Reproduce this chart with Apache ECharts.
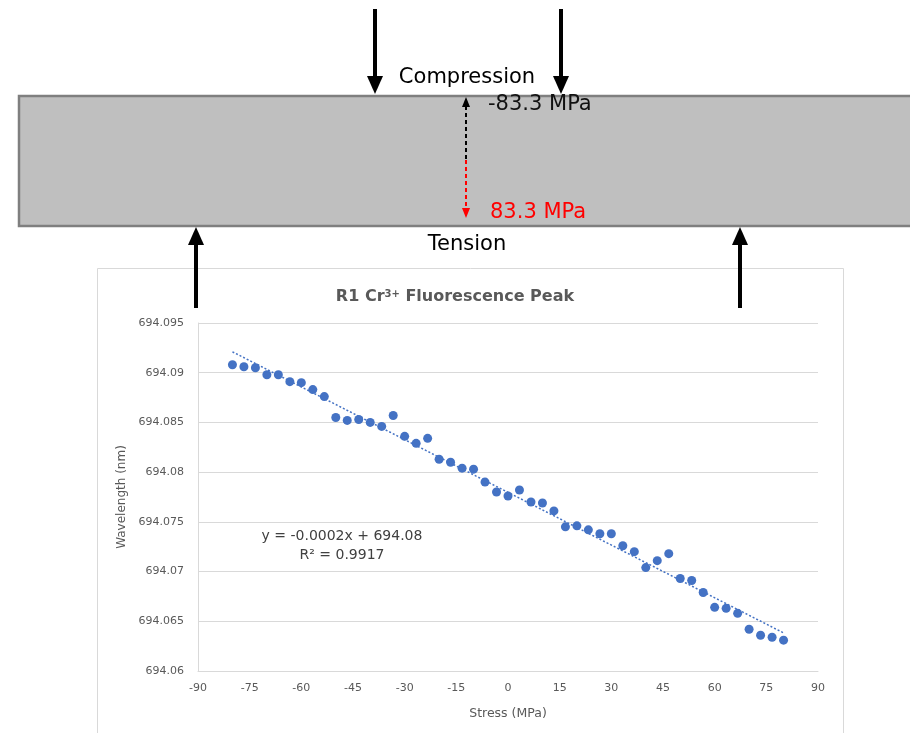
<!DOCTYPE html>
<html><head><meta charset="utf-8">
<script src="https://cdn.jsdelivr.net/npm/echarts@6/dist/echarts.min.js"></script>
<style>html,body{margin:0;padding:0;background:#fff}#c{width:910px;height:733px}</style>
</head><body><div id="c"></div>
<script>
// Stress (MPa) of each measurement
const stress = [-80, -76.67, -73.33, -70, -66.67, -63.33, -60, -56.67, -53.33, -50,
  -46.67, -43.33, -40, -36.67, -33.33, -30, -26.67, -23.33, -20, -16.67,
  -13.33, -10, -6.67, -3.33, 0, 3.33, 6.67, 10, 13.33, 16.67,
  20, 23.33, 26.67, 30, 33.33, 36.67, 40, 43.33, 46.67, 50,
  53.33, 56.67, 60, 63.33, 66.67, 70, 73.33, 76.67, 80];
// R1 peak wavelength (nm)
const wavelength = [694.0908, 694.0906, 694.0905, 694.0898, 694.0898, 694.0891, 694.0890, 694.0883, 694.0876, 694.0855,
  694.0852, 694.0853, 694.0850, 694.0846, 694.0857, 694.0836, 694.0829, 694.0834, 694.0813, 694.0810,
  694.0804, 694.0803, 694.0790, 694.0780, 694.0776, 694.0782, 694.0770, 694.0769, 694.0761, 694.0745,
  694.0746, 694.0742, 694.0738, 694.0738, 694.0726, 694.0720, 694.0704, 694.0711, 694.0718, 694.0693,
  694.0691, 694.0679, 694.0664, 694.0663, 694.0658, 694.0642, 694.0636, 694.0634, 694.0631];
const xRange = [-90, 90, 15];
const yRange = [694.06, 694.095, 0.005];
const titleParts = ['R1 Cr', '3+', ' Fluorescence Peak'];
const eqText = 'y = -0.0002x + 694.08';
const r2Text = 'R² = 0.9917';
const diagramTexts = ['Compression', 'Tension', '-83.3 MPa', '83.3 MPa'];

// least-squares trendline from the data
const base = 694;
let n = stress.length, sx = 0, sy = 0, sxx = 0, sxy = 0;
for (let i = 0; i < n; i++) {
  const x = stress[i], y = wavelength[i] - base;
  sx += x; sy += y; sxx += x * x; sxy += x * y;
}
const slope = (n * sxy - sx * sy) / (n * sxx - sx * sx);
const icpt = (sy - slope * sx) / n;
const xmin = Math.min(...stress), xmax = Math.max(...stress);
const trend = [[xmin, base + icpt + slope * xmin], [xmax, base + icpt + slope * xmax]];

const blue = '#4472C4';
const F = 'DejaVu Sans';
function downArrow(x) {
  return [
    {type: 'line', z: 50, shape: {x1: x, y1: 9, x2: x, y2: 78}, style: {stroke: '#000', lineWidth: 4}},
    {type: 'polygon', z: 50, shape: {points: [[x - 8, 76], [x + 8, 76], [x, 94]]}, style: {fill: '#000'}}
  ];
}
function upArrow(x) {
  return [
    {type: 'line', z: 50, shape: {x1: x, y1: 242, x2: x, y2: 308}, style: {stroke: '#000', lineWidth: 4}},
    {type: 'polygon', z: 50, shape: {points: [[x - 8, 245], [x + 8, 245], [x, 227]]}, style: {fill: '#000'}}
  ];
}
const graphic = [
  {type: 'rect', z: -10, shape: {x: 97.5, y: 268.5, width: 746, height: 500}, style: {fill: '#fff', stroke: '#d9d9d9', lineWidth: 1}},
  {type: 'rect', z: 1, shape: {x: 19, y: 96, width: 900, height: 130}, style: {fill: '#bfbfbf', stroke: '#7f7f7f', lineWidth: 2.5}},
  ...downArrow(375), ...downArrow(561), ...upArrow(196), ...upArrow(740),
  {type: 'line', z: 5, shape: {x1: 466, y1: 106, x2: 466, y2: 160}, style: {stroke: '#000', lineWidth: 2, lineDash: [4, 3]}},
  {type: 'line', z: 5, shape: {x1: 466, y1: 160, x2: 466, y2: 210}, style: {stroke: '#ff0000', lineWidth: 2, lineDash: [4, 3]}},
  {type: 'polygon', z: 5, shape: {points: [[462, 107], [470, 107], [466, 97]]}, style: {fill: '#000'}},
  {type: 'polygon', z: 5, shape: {points: [[462, 208], [470, 208], [466, 218]]}, style: {fill: '#ff0000'}},
  {type: 'text', z: 5, x: 467, y: 78, style: {text: diagramTexts[0], font: '21px "' + F + '"', fill: '#000', align: 'center', verticalAlign: 'middle'}},
  {type: 'text', z: 5, x: 467, y: 245, style: {text: diagramTexts[1], font: '21px "' + F + '"', fill: '#000', align: 'center', verticalAlign: 'middle'}},
  {type: 'text', z: 5, x: 488, y: 105, style: {text: diagramTexts[2], font: '21px "' + F + '"', fill: '#111', align: 'left', verticalAlign: 'middle'}},
  {type: 'text', z: 5, x: 490, y: 213, style: {text: diagramTexts[3], font: '21px "' + F + '"', fill: '#ff0000', align: 'left', verticalAlign: 'middle'}},
  {type: 'text', z: 5, x: 342, y: 536, style: {text: eqText, font: '14px "' + F + '"', fill: '#404040', align: 'center', verticalAlign: 'middle'}},
  {type: 'text', z: 5, x: 342, y: 555, style: {text: r2Text, font: '14px "' + F + '"', fill: '#404040', align: 'center', verticalAlign: 'middle'}}
];

const chart = echarts.init(document.getElementById('c'));
function fmtY(v) { return (+v).toFixed(3).replace(/0+$/, '').replace(/\.$/, ''); }
chart.setOption({
  animation: false,
  backgroundColor: '#fff',
  textStyle: {fontFamily: F},
  title: {
    text: '{a|' + titleParts[0] + '}{s|' + titleParts[1] + '}{a|' + titleParts[2] + '}',
    left: 'center', top: 284,
    textStyle: {rich: {
      a: {fontFamily: F, fontWeight: 'bold', fontSize: 16, color: '#595959'},
      s: {fontFamily: F, fontWeight: 'bold', fontSize: 10, color: '#595959', verticalAlign: 'top', padding: [0, 0, 6, 0]}
    }}
  },
  graphic: graphic,
  grid: {left: 198, right: 92, top: 323, bottom: 62},
  xAxis: {
    type: 'value', min: xRange[0], max: xRange[1], interval: xRange[2],
    name: 'Stress (MPa)', nameLocation: 'middle', nameGap: 36,
    nameTextStyle: {fontFamily: F, fontSize: 12.5, color: '#595959'},
    axisLine: {show: true, onZero: false, lineStyle: {color: '#d9d9d9', width: 1}},
    axisTick: {show: false},
    axisLabel: {fontFamily: F, fontSize: 11, color: '#595959', margin: 12},
    splitLine: {show: false}
  },
  yAxis: {
    type: 'value', min: yRange[0], max: yRange[1], interval: yRange[2],
    name: 'Wavelength (nm)', nameLocation: 'middle', nameGap: 66,
    nameTextStyle: {fontFamily: F, fontSize: 12, color: '#595959'},
    axisLine: {show: true, onZero: false, lineStyle: {color: '#d9d9d9', width: 1}},
    axisTick: {show: false},
    axisLabel: {fontFamily: F, fontSize: 11, color: '#595959', margin: 14, formatter: fmtY},
    splitLine: {show: true, lineStyle: {color: '#d9d9d9', width: 1}}
  },
  series: [
    {type: 'line', data: trend, symbol: 'none', z: 3,
      lineStyle: {color: blue, width: 1.5, type: [2, 2]}},
    {type: 'scatter', data: stress.map((x, i) => [x, wavelength[i]]), symbolSize: 9, z: 4,
      itemStyle: {color: blue, opacity: 1}}
  ]
});
</script></body></html>
